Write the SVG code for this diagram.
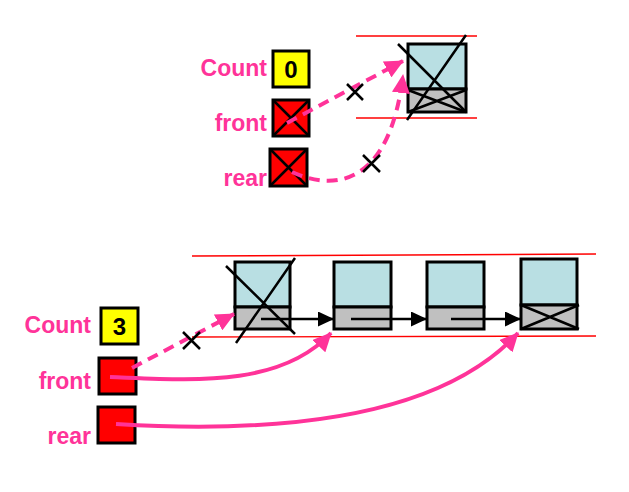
<svg xmlns="http://www.w3.org/2000/svg" width="629" height="492" viewBox="0 0 629 492">
<style>
.lbl{font-family:"Liberation Sans",Arial,sans-serif;font-weight:bold;font-size:23px;fill:#FF3399;text-anchor:end}
.num{font-family:"Liberation Sans",Arial,sans-serif;font-weight:bold;font-size:24px;fill:#000;text-anchor:middle}
.box{stroke:#000;stroke-width:3}
.data{fill:#B9DFE3;stroke:#000;stroke-width:3}
.ptr{fill:#C0C0C0;stroke:#000;stroke-width:3}
.rule{stroke:#FF0000;stroke-width:1.4;fill:none}
.cross{stroke:#000;stroke-width:2.5;fill:none}
.pd{stroke:#FF3399;stroke-width:4;fill:none;stroke-dasharray:11 7}
.ps{stroke:#FF3399;stroke-width:4;fill:none}
.bk{stroke:#000;stroke-width:2.5;fill:none}
</style>
<defs>
<marker id="pa" markerUnits="userSpaceOnUse" markerWidth="20" markerHeight="18" refX="18" refY="9" orient="auto">
<path d="M0,0 L19,9 L0,18 Z" fill="#FF3399"/>
</marker>
<marker id="ba" markerUnits="userSpaceOnUse" markerWidth="17" markerHeight="15" refX="16" refY="7.5" orient="auto">
<path d="M0,0 L16,7.5 L0,15 Z" fill="#000"/>
</marker>
</defs>

<!-- rules -->
<line class="rule" x1="356" y1="36" x2="477" y2="36"/>
<line class="rule" x1="356" y1="118" x2="477" y2="118"/>
<line class="rule" x1="192" y1="256" x2="596" y2="254"/>
<line class="rule" x1="192" y1="337" x2="596" y2="336"/>

<!-- top state -->
<g id="top-count">
<text class="lbl" x="267" y="76">Count</text>
<rect class="box" x="273" y="51" width="36" height="36" fill="#FFFF00"/>
<text class="num" x="291" y="78">0</text>
</g>
<g id="top-front">
<text class="lbl" x="267" y="131">front</text>
<rect class="box" x="273" y="100" width="36" height="36" fill="#FF0000"/>
<path class="cross" d="M273,100 L309,136 M309,100 L273,136"/>
</g>
<g id="top-rear">
<text class="lbl" x="267" y="186">rear</text>
<rect class="box" x="270" y="149" width="37" height="37" fill="#FF0000"/>
<path class="cross" d="M270,149 L307,186 M307,149 L270,186"/>
</g>
<g id="top-node">
<rect class="data" x="408" y="44" width="58" height="45"/>
<rect class="ptr" x="408" y="89" width="58" height="23"/>
<path class="cross" d="M408,90 L466,112 M408,112 L466,90"/>
<path class="cross" d="M398,44 L466,112 M466,35 L407,120"/>
</g>

<!-- bottom state -->
<g id="bot-count">
<text class="lbl" x="91" y="333">Count</text>
<rect class="box" x="101" y="308" width="37" height="36" fill="#FFFF00"/>
<text class="num" x="119.5" y="335">3</text>
</g>
<g id="bot-front">
<text class="lbl" x="91" y="389">front</text>
<rect class="box" x="99" y="358" width="37" height="36" fill="#FF0000"/>
</g>
<g id="bot-rear">
<text class="lbl" x="91" y="444">rear</text>
<rect class="box" x="98" y="407" width="37" height="36" fill="#FF0000"/>
</g>
<g id="node1">
<rect class="data" x="235" y="262" width="55" height="45"/>
<rect class="ptr" x="235" y="307" width="55" height="22"/>
<path class="cross" d="M226,266 L295,334 M295,258 L236,343"/>
</g>
<g id="node2">
<rect class="data" x="334" y="262" width="57" height="45"/>
<rect class="ptr" x="334" y="307" width="57" height="22"/>
</g>
<g id="node3">
<rect class="data" x="427" y="262" width="57" height="45"/>
<rect class="ptr" x="427" y="307" width="57" height="22"/>
</g>
<g id="node4">
<rect class="data" x="521" y="259" width="56" height="46"/>
<rect class="ptr" x="521" y="305" width="56" height="24"/>
<path class="cross" d="M521,305 L579,329 M521,329 L579,305"/>
</g>

<g id="connectors">
<!-- top -->
<path class="pd" d="M287,123 L403,61" marker-end="url(#pa)"/>
<path class="pd" d="M292,172 C335,192 390,185 403,75" marker-end="url(#pa)"/>
<path class="cross" d="M347,84 L363,100 M363,84 L347,100"/>
<path class="cross" d="M363,155 L380,172 M380,155 L363,172"/>
<!-- bottom -->
<path class="bk" d="M261,319 L334,319" marker-end="url(#ba)"/>
<path class="bk" d="M351,319 L427,319" marker-end="url(#ba)"/>
<path class="bk" d="M451,319 L521,319" marker-end="url(#ba)"/>
<path class="pd" d="M132,368 L234,314" marker-end="url(#pa)"/>
<path class="cross" d="M183,332 L200,349 M200,332 L183,349"/>
<path class="ps" d="M110,377 C190,380 280,388 331,333" marker-end="url(#pa)"/>
<path class="ps" d="M116,424 C280,434 440,418 518,333" marker-end="url(#pa)"/>
</g>
</svg>
